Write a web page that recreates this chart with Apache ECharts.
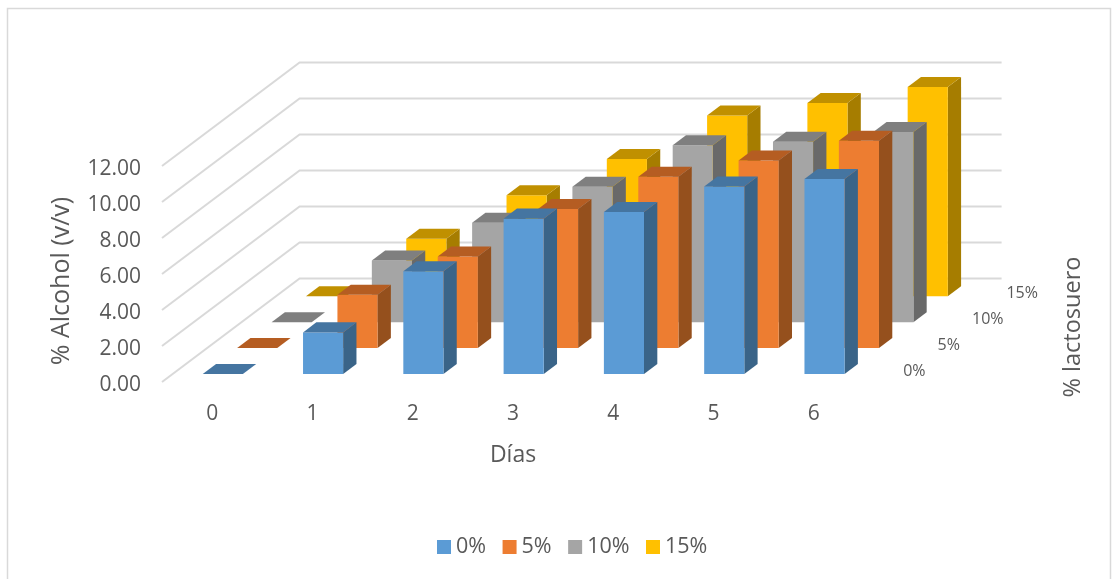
<!DOCTYPE html>
<html>
<head>
<meta charset="utf-8">
<style>html,body{margin:0;padding:0;background:#fff}#chart{width:1119px;height:579px}</style>
<script src="https://cdn.jsdelivr.net/npm/echarts@6/dist/echarts.min.js"></script>
</head>
<body>
<div id="chart"></div>
<script>
// Alcohol yield per day for four whey levels, drawn as an oblique 3D column chart.
const days = ['0', '1', '2', '3', '4', '5', '6'];
const lactoseLevels = ['0%', '5%', '10%', '15%'];
const alcohol0 = [0, 2.31, 5.70, 8.63, 9.00, 10.42, 10.83];
const alcohol5 = [0, 2.96, 5.09, 7.72, 9.52, 10.42, 11.52];
const alcohol10 = [0, 3.43, 5.52, 7.52, 9.83, 10.02, 10.56];
const alcohol15 = [0, 3.20, 5.61, 7.63, 10.04, 10.74, 11.63];
const yTicks = [0, 2, 4, 6, 8, 10, 12];

const rows = [alcohol0, alcohol5, alcohol10, alcohol15];
const faceColors = [
  { front: '#5B9BD5', top: '#4575A1', side: '#3A6488' },
  { front: '#ED7D31', top: '#B55D22', side: '#95501D' },
  { front: '#A5A5A5', top: '#7F7F7F', side: '#696969' },
  { front: '#FFC000', top: '#C09000', side: '#A67D00' }
];

// Oblique projection: one depth row shifts a point right and up by this much.
const ROW_DX = 34.4;
const ROW_DY = -25.9;
// Each column takes this share of a row's depth and of a category's width.
const BAR_DEPTH = 0.387;
const BAR_GAP = 0.31;
const BAR_WIDTH = 0.4;

const GRID = { left: 162, top: 166, width: 702, height: 216 };
const FONT = '"Open Sans", Lato, sans-serif';
const TEXT = '#595959';

function poly(points, color) {
  return { type: 'polygon', shape: { points }, style: { fill: color }, silent: true };
}

function columnRenderer(row) {
  return function (params, api) {
    const base = api.coord([api.value(0), 0]);
    const top = api.coord([api.value(0), api.value(1)]);
    const w = api.size([1, 0])[0] * BAR_WIDTH;
    const shiftX = ROW_DX * (row + BAR_GAP);
    const shiftY = ROW_DY * (row + BAR_GAP);
    const dx = ROW_DX * BAR_DEPTH;
    const dy = ROW_DY * BAR_DEPTH;
    const x0 = base[0] - w / 2 + shiftX;
    const x1 = x0 + w;
    const yb = base[1] + shiftY;
    const yt = top[1] + shiftY;
    const c = faceColors[row];
    return {
      type: 'group',
      children: [
        poly([[x1, yb], [x1 + dx, yb + dy], [x1 + dx, yt + dy], [x1, yt]], c.side),
        poly([[x0, yb], [x1, yb], [x1, yt], [x0, yt]], c.front),
        poly([[x0, yt], [x1, yt], [x1 + dx, yt + dy], [x0 + dx, yt + dy]], c.top)
      ]
    };
  };
}

// Gridlines run along the left wall, then across the back wall.
function wallRenderer(params, api) {
  const p = api.coord([0, api.value(0)]);
  const band = api.size([1, 0])[0];
  const x0 = p[0] - band / 2;
  const depthX = ROW_DX * lactoseLevels.length;
  const depthY = ROW_DY * lactoseLevels.length;
  return {
    type: 'polyline',
    shape: { points: [
      [x0, p[1]],
      [x0 + depthX, p[1] + depthY],
      [x0 + depthX + band * days.length, p[1] + depthY]
    ] },
    style: { stroke: '#D9D9D9', lineWidth: 2, fill: 'none' },
    silent: true
  };
}

// Row captions sit along the floor's right edge.
function rowLabelRenderer(params, api) {
  const r = api.value(0);
  const p = api.coord([days.length - 1, 0]);
  const band = api.size([1, 0])[0];
  return {
    type: 'text',
    x: p[0] + band / 2 + ROW_DX * (r + 0.5) + 22,
    y: p[1] + ROW_DY * (r + 0.5) + 2,
    style: {
      text: lactoseLevels[r], fill: TEXT, font: '16px ' + FONT,
      textAlign: 'left', textVerticalAlign: 'middle'
    },
    silent: true
  };
}

const columnSeries = rows.map((values, r) => ({
  name: lactoseLevels[r],
  type: 'custom',
  z: 20 - r,
  animation: false,
  renderItem: columnRenderer(r),
  itemStyle: { color: faceColors[r].front },
  encode: { x: 0, y: 1 },
  data: values.map((v, i) => [i, v])
}));

const chart = echarts.init(document.getElementById('chart'), null, { renderer: 'canvas' });
chart.setOption({
  animation: false,
  backgroundColor: '#fff',
  grid: GRID,
  graphic: [
    {
      type: 'rect', z: -10,
      shape: { x: 7.5, y: 8.5, width: 1103, height: 580 },
      style: { fill: '#fff', stroke: '#D9D9D9', lineWidth: 1.5 }
    },
    {
      type: 'text', x: 1073, y: 327, rotation: Math.PI / 2,
      style: {
        text: '% lactosuero', fill: TEXT, font: '23.5px ' + FONT,
        textAlign: 'center', textVerticalAlign: 'middle'
      }
    }
  ],
  legend: {
    data: lactoseLevels,
    left: 432, top: 531,
    icon: 'rect',
    itemWidth: 14, itemHeight: 14, itemGap: 16.5,
    textStyle: { color: TEXT, fontSize: 21.5, fontFamily: FONT, padding: [0, 0, 0, 0] }
  },
  xAxis: {
    type: 'category',
    data: days,
    name: 'Días',
    nameLocation: 'middle',
    nameGap: 62,
    nameTextStyle: { color: TEXT, fontSize: 23, fontFamily: FONT },
    axisLine: { show: false },
    axisTick: { show: false },
    axisLabel: { color: TEXT, fontSize: 21, fontFamily: FONT, margin: 22 }
  },
  yAxis: {
    type: 'value',
    min: yTicks[0],
    max: yTicks[yTicks.length - 1],
    interval: 2,
    name: '% Alcohol (v/v)',
    nameLocation: 'middle',
    nameGap: 88,
    nameTextStyle: { color: TEXT, fontSize: 25, fontFamily: FONT, padding: [0, 14, 0, 0] },
    axisLine: { show: false },
    axisTick: { show: false },
    splitLine: { show: false },
    axisLabel: {
      color: TEXT, fontSize: 21, fontFamily: FONT, margin: 21,
      verticalAlign: 'top', lineHeight: 6,
      formatter: v => v.toFixed(2)
    }
  },
  series: [
    {
      type: 'custom', z: 1, animation: false, silent: true,
      renderItem: wallRenderer,
      encode: { y: 0 },
      data: yTicks.map(v => [v])
    },
    {
      type: 'custom', z: 1, animation: false, silent: true,
      renderItem: rowLabelRenderer,
      data: lactoseLevels.map((_, i) => [i])
    }
  ].concat(columnSeries)
});
</script>
</body>
</html>
